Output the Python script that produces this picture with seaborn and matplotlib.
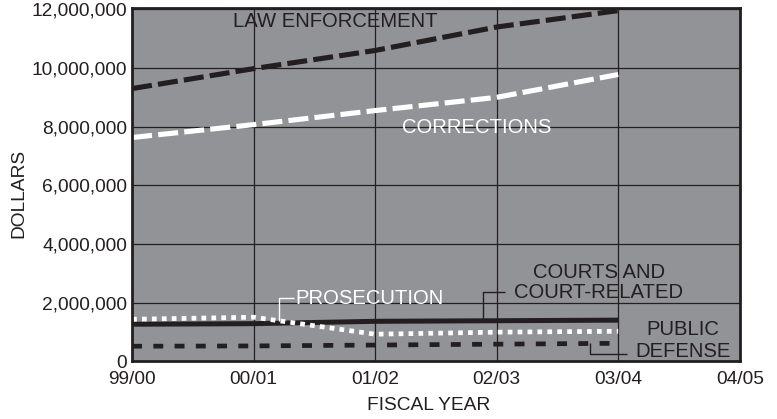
import numpy as np
import pandas as pd
import matplotlib
matplotlib.use("Agg")
import matplotlib.pyplot as plt
import seaborn as sns

# Fiscal-year spending by justice function
years = ["99/00", "00/01", "01/02", "02/03", "03/04", "04/05"]
law_enforcement = [9_300_000, 9_980_000, 10_600_000, 11_400_000, 11_960_000]
corrections = [7_630_000, 8_070_000, 8_550_000, 9_000_000, 9_780_000]
courts = [1_260_000, 1_280_000, 1_360_000, 1_380_000, 1_400_000]
prosecution = [1_430_000, 1_500_000, 920_000, 990_000, 1_020_000]
public_defense = [510_000, 520_000, 550_000, 580_000, 610_000]
y_ticks = [0, 2_000_000, 4_000_000, 6_000_000, 8_000_000, 10_000_000, 12_000_000]

sns.set_theme(style="ticks")
plt.rcParams["font.family"] = ["Liberation Sans", "DejaVu Sans"]

INK = "#231f20"

fig = plt.figure(figsize=(7.77, 4.19), dpi=100)
ax = fig.add_axes([0.170, 0.138, 0.782, 0.843])
ax.set_facecolor("#929396")

x = np.arange(len(law_enforcement))
df = pd.DataFrame({
    "x": np.tile(x, 5),
    "value": law_enforcement + corrections + courts + prosecution + public_defense,
    "series": np.repeat(["LAW ENFORCEMENT", "CORRECTIONS", "COURTS", "PROSECUTION", "PUBLIC DEFENSE"], len(x)),
})

styles = {
    "LAW ENFORCEMENT": dict(color=INK, lw=3.7, dashes=(3.9, 1.2)),
    "CORRECTIONS": dict(color="white", lw=3.7, dashes=(3.9, 1.2)),
    "COURTS": dict(color=INK, lw=3.6, dashes=None),
    "PROSECUTION": dict(color="white", lw=3.4, dashes=(1.0, 1.1)),
    "PUBLIC DEFENSE": dict(color=INK, lw=3.4, dashes=(2.1, 2.4)),
}

for name, st in styles.items():
    sub = df[df["series"] == name]
    kw = dict(data=sub, x="x", y="value", ax=ax, color=st["color"], lw=st["lw"],
              legend=False, solid_capstyle="butt", dash_capstyle="butt")
    line = sns.lineplot(**kw).lines[-1]
    if st["dashes"] is not None:
        line.set_dashes(st["dashes"])

ax.set_xlim(0, len(years) - 1)
ax.set_ylim(0, 12_050_000)
ax.set_xticks(range(len(years)))
ax.set_xticklabels(years)
ax.set_yticks(y_ticks)
ax.set_yticklabels([f"{v:,}" for v in y_ticks])
ax.grid(True, color=INK, lw=0.9)
ax.set_axisbelow(True)
for s in ax.spines.values():
    s.set_color(INK)
    s.set_linewidth(2.0)
ax.tick_params(axis="both", length=0, labelsize=13.8, colors=INK, pad=3.5)
ax.tick_params(axis="x", pad=7)
ax.set_xlabel("FISCAL YEAR", fontsize=13.8, color=INK)
ax.set_ylabel("DOLLARS", fontsize=13.8, color=INK)
ax.xaxis.set_label_coords(0.488, -0.102)
ax.yaxis.set_label_coords(-0.172, 0.474)

lbl = dict(fontsize=14.6, va="center")
ax.text(0.83, 11_580_000, "LAW ENFORCEMENT", color=INK, ha="left", **lbl)
ax.text(2.22, 7_970_000, "CORRECTIONS", color="white", ha="left", **lbl)
ax.text(1.34, 2_150_000, "PROSECUTION", color="white", ha="left", **lbl)
ax.text(3.84, 3_030_000, "COURTS AND", color=INK, ha="center", **lbl)
ax.text(3.84, 2_330_000, "COURT-RELATED", color=INK, ha="center", **lbl)
ax.text(4.53, 1_090_000, "PUBLIC", color=INK, ha="center", **lbl)
ax.text(4.53, 340_000, "DEFENSE", color=INK, ha="center", **lbl)

# leader lines from labels to their series
lead = dict(lw=1.0, solid_capstyle="butt")
px = 1.21
ax.plot([px, px, 1.33], [np.interp(px, x, prosecution), 2_150_000, 2_150_000], color="white", **lead)
cx = 2.89
ax.plot([cx, cx, 3.07], [np.interp(cx, x, courts), 2_350_000, 2_350_000], color=INK, **lead)
dx = 3.77
ax.plot([dx, dx, 4.07], [np.interp(dx, x, public_defense), 240_000, 240_000], color=INK, **lead)

fig.savefig("out.png", dpi=100)
